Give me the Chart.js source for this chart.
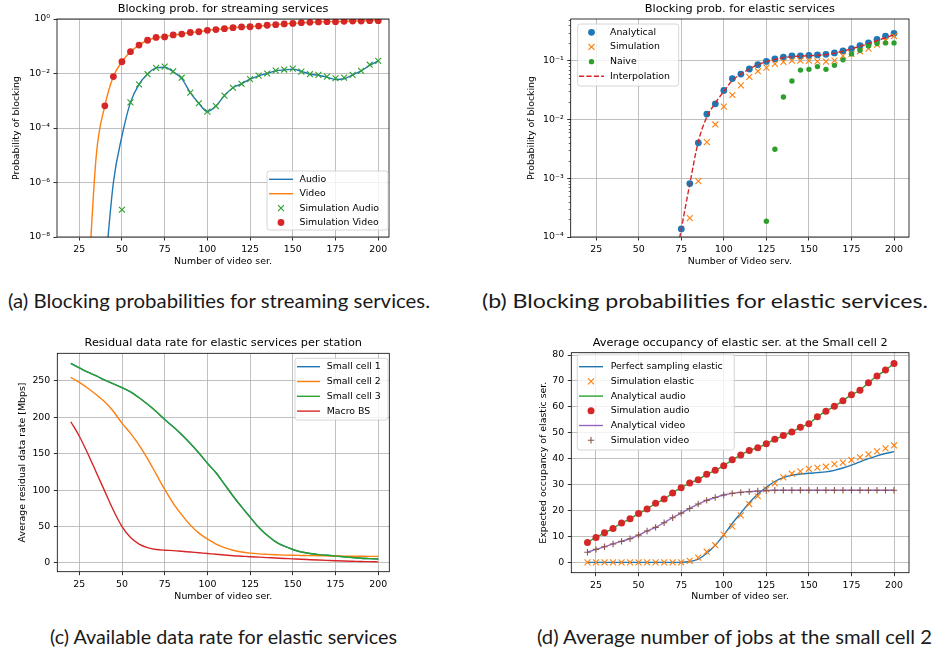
<!DOCTYPE html>
<html>
<head>
<meta charset="utf-8">
<script src="https://cdn.jsdelivr.net/npm/chart.js@4.4.1/dist/chart.umd.min.js"></script>
<style>
  html, body { margin: 0; padding: 0; background: #fff; }
  body { width: 933px; height: 654px; position: relative; overflow: hidden; }
  canvas { position: absolute; }
  .cap {
    position: absolute; white-space: nowrap; color: #1a1a1a;
    font-family: Lato, "Noto Sans", "DejaVu Sans", sans-serif; font-weight: 400;
    font-size: 19px; line-height: 20px; transform-origin: 0 50%;
  }
</style>
</head>
<body>
<canvas id="chartA" width="466" height="285" style="left:0;top:0"></canvas>
<canvas id="chartB" width="467" height="285" style="left:466px;top:0"></canvas>
<canvas id="chartC" width="466" height="290" style="left:0;top:330px"></canvas>
<canvas id="chartD" width="467" height="290" style="left:466px;top:330px"></canvas>

<div class="cap" data-w="422" style="left:8px;top:291px">(a) Blocking probabilities for streaming services.</div>
<div class="cap" data-w="446" style="left:482px;top:291px">(b) Blocking probabilities for elastic services.</div>
<div class="cap" data-w="347" style="left:50px;top:627px">(c) Available data rate for elastic services</div>
<div class="cap" data-w="395" style="left:537px;top:627px">(d) Average number of jobs at the small cell 2</div>

<script>
// ---------- (a) streaming blocking probabilities ----------
const audioX = [40, 45, 50, 55, 60, 65, 70, 75, 80, 85, 90, 95, 100, 105, 110, 115, 120, 125, 130, 135, 140, 145, 150, 155, 160, 165, 170, 175, 180, 185, 190, 195, 200];
const audioAnalytic = [5e-10, 1e-6, 5e-5, 8.7e-4, 4e-3, 9.6e-3, 1.6e-2, 1.7e-2, 1.15e-2, 6.5e-3, 2e-3, 8.1e-4, 4e-4, 6.4e-4, 1.55e-3, 3e-3, 4.2e-3, 6.2e-3, 8.2e-3, 1e-2, 1.25e-2, 1.35e-2, 1.45e-2, 1.2e-2, 9.6e-3, 8.6e-3, 7.4e-3, 6.0e-3, 6.4e-3, 8.9e-3, 1.25e-2, 2e-2, 2.9e-2];
const audioSimX = [50, 55, 60, 65, 70, 75, 80, 85, 90, 95, 100, 105, 110, 115, 120, 125, 130, 135, 140, 145, 150, 155, 160, 165, 170, 175, 180, 185, 190, 195, 200];
const audioSim = [1e-7, 8.7e-4, 4e-3, 9.4e-3, 1.6e-2, 1.8e-2, 1.2e-2, 7e-3, 2e-3, 8.1e-4, 4e-4, 6.4e-4, 1.55e-3, 3e-3, 4.2e-3, 6.2e-3, 8.3e-3, 1e-2, 1.28e-2, 1.4e-2, 1.5e-2, 1.17e-2, 9.4e-3, 8.9e-3, 7.7e-3, 6.7e-3, 7.1e-3, 8.9e-3, 1.25e-2, 2.1e-2, 2.9e-2];
const videoX = [30, 35, 40, 45, 50, 55, 60, 65, 70, 75, 80, 85, 90, 95, 100, 105, 110, 115, 120, 125, 130, 135, 140, 145, 150, 155, 160, 165, 170, 175, 180, 185, 190, 195, 200];
const videoAnalytic = [1e-10, 1e-5, 6.5e-4, 7.7e-3, 2.7e-2, 6.3e-2, 0.11, 0.166, 0.205, 0.225, 0.26, 0.28, 0.32, 0.34, 0.385, 0.41, 0.44, 0.48, 0.51, 0.52, 0.55, 0.59, 0.62, 0.66, 0.69, 0.73, 0.755, 0.78, 0.8, 0.8, 0.82, 0.845, 0.845, 0.87, 0.87];
const videoSimX = [40, 45, 50, 55, 60, 65, 70, 75, 80, 85, 90, 95, 100, 105, 110, 115, 120, 125, 130, 135, 140, 145, 150, 155, 160, 165, 170, 175, 180, 185, 190, 195, 200];
const videoSim = [6.5e-4, 7.7e-3, 2.7e-2, 6.3e-2, 0.11, 0.166, 0.21, 0.22, 0.26, 0.28, 0.32, 0.34, 0.385, 0.41, 0.44, 0.48, 0.51, 0.52, 0.55, 0.59, 0.62, 0.66, 0.69, 0.73, 0.755, 0.78, 0.8, 0.8, 0.82, 0.845, 0.845, 0.87, 0.87];
const logTicksA = [1e-8, 1e-6, 1e-4, 1e-2, 1];

// ---------- (b) elastic blocking probabilities ----------
const analyticalX = [75, 80, 85, 90, 95, 100, 105, 110, 115, 120, 125, 130, 135, 140, 145, 150, 155, 160, 165, 170, 175, 180, 185, 190, 195, 200];
const analytical = [1.37e-4, 8.1e-4, 4e-3, 1.23e-2, 1.84e-2, 3.1e-2, 4.95e-2, 5.9e-2, 7.2e-2, 8.5e-2, 9.7e-2, 0.107, 0.115, 0.12, 0.12, 0.123, 0.125, 0.128, 0.135, 0.146, 0.16, 0.18, 0.2, 0.23, 0.26, 0.29];
const simulationX = [80, 85, 90, 95, 100, 105, 110, 115, 120, 125, 130, 135, 140, 145, 150, 155, 160, 165, 170, 175, 180, 185, 190, 195, 200];
const simulation = [2.1e-4, 8.9e-4, 4.1e-3, 8.2e-3, 1.65e-2, 2.6e-2, 3.8e-2, 5.3e-2, 6.6e-2, 7.6e-2, 8.8e-2, 9.5e-2, 0.1, 0.1, 0.1, 0.097, 0.096, 0.1, 0.12, 0.13, 0.144, 0.16, 0.186, 0.22, 0.26];
const naiveX = [125, 130, 135, 140, 145, 150, 155, 160, 165, 170, 175, 180, 185, 190, 195, 200];
const naive = [1.85e-4, 3.1e-3, 2.4e-2, 4.5e-2, 6.9e-2, 7.1e-2, 7.9e-2, 7.1e-2, 8.3e-2, 0.103, 0.13, 0.15, 0.178, 0.195, 0.2, 0.2];
const interpX = [74, 75, 80, 85, 90, 95, 100, 105, 110, 115, 120, 125, 130, 135, 140, 145, 150, 155, 160, 165, 170, 175, 180, 185, 190, 195, 200];
const interp = [9.5e-5, 1.37e-4, 8e-4, 4.2e-3, 1.1e-2, 1.9e-2, 3.0e-2, 4.6e-2, 5.9e-2, 7.2e-2, 8.5e-2, 9.6e-2, 0.105, 0.112, 0.117, 0.119, 0.121, 0.123, 0.127, 0.134, 0.145, 0.158, 0.175, 0.195, 0.22, 0.245, 0.275];
const logTicksB = [1e-4, 1e-3, 1e-2, 1e-1];

// ---------- (c) residual data rate per station ----------
const stationX = [20, 25, 30, 35, 40, 45, 50, 55, 60, 65, 70, 75, 80, 85, 90, 95, 100, 105, 110, 115, 120, 125, 130, 135, 140, 145, 150, 155, 160, 165, 170, 175, 180, 185, 190, 195, 200];
const smallCell1 = [274, 268, 262, 257, 251, 246, 241, 235, 227, 218, 208, 197, 187, 176, 164, 151, 137, 124, 108, 92, 77, 63, 49, 38, 29, 23, 18.5, 15, 13, 11.5, 10.5, 9.5, 8.5, 7.5, 6.5, 6, 5.5];
const smallCell2 = [255, 248, 240, 231, 221, 208, 192, 178, 162, 143, 122, 101, 82, 66, 52, 41, 33, 26, 21, 17.5, 15, 13.5, 12.5, 11.8, 11.2, 10.8, 10.5, 10.3, 10.1, 10, 9.8, 9.6, 9.4, 9.3, 9.2, 9.1, 9];
const smallCell3 = [274, 268, 262, 257, 251, 246, 241, 235, 227, 218, 208, 197, 187, 176, 164, 151, 137, 124, 108, 92, 77, 63, 49, 38, 29, 23, 18.5, 15, 13, 11.5, 10.5, 9.5, 8.5, 7.5, 6.5, 6, 5.5];
const macroBS = [194, 174, 150, 124, 98, 72, 50, 35, 26, 21, 18.5, 17.5, 17, 16, 15, 14, 13, 12, 11, 10, 9.3, 8.6, 8, 7.4, 6.8, 6.2, 5.6, 5, 4.5, 4, 3.5, 3, 2.6, 2.3, 2, 1.8, 1.5];

// ---------- (d) occupancy at small cell 2 ----------
const occX = [20, 25, 30, 35, 40, 45, 50, 55, 60, 65, 70, 75, 80, 85, 90, 95, 100, 105, 110, 115, 120, 125, 130, 135, 140, 145, 150, 155, 160, 165, 170, 175, 180, 185, 190, 195, 200];
const perfectElastic = [0, 0, 0, 0, 0, 0, 0, 0, 0, 0, 0, 0, 0.3, 1.2, 3.5, 6.6, 10.5, 15, 19, 23, 26.3, 29, 31.2, 32.7, 33.6, 34.1, 34.4, 34.6, 34.9, 35.5, 36.4, 37.5, 38.8, 40, 41.1, 42, 42.7];
const elasticSim = [0, 0, 0, 0, 0, 0, 0, 0, 0, 0, 0, 0, 0.6, 1.8, 4.1, 6.6, 10.7, 13.9, 18.1, 22.5, 25.5, 28.2, 30.5, 32.8, 34.2, 35.1, 36.1, 36.5, 36.9, 37.9, 38.5, 39.5, 40.5, 41.7, 42.8, 44.0, 45.1];
const audioOccAnalytic = [7.7, 9.6, 11.4, 13.1, 15.2, 16.8, 18.8, 20.6, 22.8, 24.4, 26.8, 28.8, 30.6, 31.9, 34.0, 35.5, 37.3, 39.6, 41.4, 43.2, 44.2, 45.8, 47.5, 48.9, 50.3, 52.1, 53.5, 56.2, 58.3, 60.2, 62.4, 64.7, 66.4, 69.3, 71.9, 74.2, 76.7];
const audioOccSim = [7.7, 9.6, 11.4, 13.1, 15.2, 16.8, 18.8, 20.6, 22.8, 24.4, 26.8, 28.8, 30.6, 31.9, 34.0, 35.5, 37.3, 39.6, 41.4, 43.2, 44.2, 45.8, 47.5, 48.9, 50.3, 52.1, 53.5, 56.2, 58.3, 60.2, 62.4, 64.7, 66.4, 69.3, 71.9, 74.2, 76.7];
const videoOccAnalytic = [3.9, 5.0, 6.0, 7.1, 8.1, 9.1, 10.5, 12.1, 13.5, 15.3, 17.2, 19.0, 20.8, 22.5, 23.9, 25.0, 26.0, 26.6, 27.0, 27.3, 27.5, 27.7, 27.8, 27.8, 27.8, 27.8, 27.8, 27.8, 27.8, 27.8, 27.8, 27.8, 27.8, 27.8, 27.8, 27.8, 27.8];
const videoOccSim = [3.9, 5.0, 6.0, 7.1, 8.1, 9.1, 10.5, 12.1, 13.5, 15.3, 17.2, 19.0, 20.8, 22.5, 23.9, 25.0, 26.0, 26.6, 27.0, 27.3, 27.5, 27.7, 27.8, 27.8, 27.8, 27.8, 27.8, 27.8, 27.8, 27.8, 27.8, 27.8, 27.8, 27.8, 27.8, 27.8, 27.8];

const xTicks = [25, 50, 75, 100, 125, 150, 175, 200];
const yTicksC = [0, 50, 100, 150, 200, 250];
const yTicksD = [0, 10, 20, 30, 40, 50, 60, 70, 80];

// ---------- styling helpers ----------
const C = { blue: '#1f77b4', orange: '#ff7f0e', green: '#2ca02c', red: '#d62728', purple: '#9467bd', brown: '#8c564b' };
const FONT = '"DejaVu Sans", Verdana, sans-serif';
const FS = 9.4;
const SUP = { '-': '\u207B', '0': '\u2070', '1': '\u00B9', '2': '\u00B2', '3': '\u00B3', '4': '\u2074', '5': '\u2075', '6': '\u2076', '7': '\u2077', '8': '\u2078', '9': '\u2079' };
const powLabel = v => '10' + String(Math.round(Math.log10(v))).split('').map(c => SUP[c]).join('');
const pts = (xs, ys) => xs.map((x, i) => ({ x, y: ys[i] }));

function lineDs(label, xs, ys, color, extra) {
  return Object.assign({
    label, data: pts(xs, ys), borderColor: color, backgroundColor: color,
    borderWidth: 1.4, pointRadius: 0, pointHoverRadius: 0,
    cubicInterpolationMode: 'monotone', fill: false
  }, extra || {});
}
function markDs(label, xs, ys, color, style, r) {
  return {
    label, data: pts(xs, ys), showLine: false, borderColor: color, backgroundColor: color,
    pointStyle: style, pointRadius: r, pointHoverRadius: r,
    pointBackgroundColor: color, pointBorderColor: color,
    pointBorderWidth: style === 'circle' ? 0 : 1.1
  };
}

const gridOpt = { color: '#b0b0b0', lineWidth: 0.8, tickColor: '#000', tickWidth: 0.8, tickLength: 3.5, drawTicks: true };
const tickOpt = { font: { family: FONT, size: FS }, color: '#000', padding: 3.5, maxRotation: 0, autoSkip: false };

function xScale(min, max, h) {
  return {
    type: 'linear', min, max, grid: gridOpt, border: { display: false }, ticks: tickOpt,
    afterBuildTicks: s => { s.ticks = xTicks.map(v => ({ value: v })); },
    afterFit: s => { s.height = h; }
  };
}
function yLinear(min, max, ticks, w) {
  return {
    type: 'linear', min, max, grid: gridOpt, border: { display: false }, ticks: tickOpt,
    afterBuildTicks: s => { s.ticks = ticks.map(v => ({ value: v })); },
    afterFit: s => { s.width = w; }
  };
}
function yLog(min, max, ticks, w) {
  return {
    type: 'logarithmic', min, max, grid: gridOpt, border: { display: false },
    ticks: Object.assign({}, tickOpt, { callback: v => powLabel(v) }),
    afterBuildTicks: s => { s.ticks = ticks.map(v => ({ value: v })); },
    afterFit: s => { s.width = w; }
  };
}

// frame, titles, minor log ticks and an inset legend box
const mplDecor = {
  id: 'mplDecor',
  afterDraw(chart, args, o) {
    const ctx = chart.ctx, a = chart.chartArea;
    ctx.save();
    ctx.strokeStyle = '#000';
    ctx.lineWidth = 0.8;
    ctx.strokeRect(a.left, a.top, a.right - a.left, a.bottom - a.top);

    if (o.minorLog) {
      const ys = chart.scales.y;
      ctx.lineWidth = 0.6;
      const lo = Math.floor(Math.log10(ys.min)), hi = Math.ceil(Math.log10(ys.max));
      for (let d = lo; d <= hi; d++) {
        for (let m = 2; m <= 9; m++) {
          const v = m * Math.pow(10, d);
          if (v < ys.min || v > ys.max) continue;
          const py = Math.round(ys.getPixelForValue(v)) + 0.5;
          ctx.beginPath(); ctx.moveTo(a.left, py); ctx.lineTo(a.left - 2, py); ctx.stroke();
        }
      }
    }

    ctx.fillStyle = '#000';
    ctx.textAlign = 'center';
    ctx.textBaseline = 'middle';
    ctx.font = `11.3px ${FONT}`;
    ctx.fillText(o.title, (a.left + a.right) / 2, a.top + o.titleDy);
    ctx.font = `${FS}px ${FONT}`;
    ctx.fillText(o.xTitle, (a.left + a.right) / 2, a.bottom + o.xTitleDy);
    ctx.save();
    ctx.translate(a.left + o.yTitleDx, (a.top + a.bottom) / 2);
    ctx.rotate(-Math.PI / 2);
    ctx.fillText(o.yTitle, 0, 0);
    ctx.restore();

    const L = o.legend;
    if (L) {
      const r = 2.5;
      ctx.beginPath();
      ctx.moveTo(L.x + r, L.y);
      ctx.arcTo(L.x + L.w, L.y, L.x + L.w, L.y + L.h, r);
      ctx.arcTo(L.x + L.w, L.y + L.h, L.x, L.y + L.h, r);
      ctx.arcTo(L.x, L.y + L.h, L.x, L.y, r);
      ctx.arcTo(L.x, L.y, L.x + L.w, L.y, r);
      ctx.closePath();
      ctx.fillStyle = 'rgba(255,255,255,0.8)';
      ctx.fill();
      ctx.strokeStyle = '#cccccc';
      ctx.lineWidth = 0.8;
      ctx.stroke();
      chart.data.datasets.forEach((ds, i) => {
        const y = L.row0 + i * L.dy;
        if (ds.showLine !== false) {
          ctx.save();
          ctx.strokeStyle = ds.borderColor;
          ctx.lineWidth = ds.borderWidth;
          ctx.setLineDash(ds.borderDash || []);
          ctx.beginPath(); ctx.moveTo(L.h0, y); ctx.lineTo(L.h1, y); ctx.stroke();
          ctx.restore();
        }
        if (ds.pointRadius > 0) {
          ctx.save();
          ctx.fillStyle = ds.pointBackgroundColor;
          ctx.strokeStyle = ds.pointBorderColor;
          ctx.lineWidth = ds.pointBorderWidth;
          Chart.helpers.drawPoint(ctx, { pointStyle: ds.pointStyle, radius: ds.pointRadius, rotation: 0, borderWidth: ds.pointBorderWidth }, (L.h0 + L.h1) / 2, y);
          ctx.restore();
        }
        ctx.fillStyle = '#000';
        ctx.textAlign = 'left';
        ctx.textBaseline = 'middle';
        ctx.font = `${FS}px ${FONT}`;
        ctx.fillText(ds.label, L.tx, y);
      });
    }
    ctx.restore();
  }
};
Chart.register(mplDecor);

function makeChart(id, datasets, scales, padding, decor) {
  // later datasets are painted on top
  datasets.forEach((d, i) => { d.order = datasets.length - i; });
  return new Chart(document.getElementById(id), {
    type: 'line',
    data: { datasets },
    options: {
      responsive: false, animation: false, devicePixelRatio: 1,
      layout: { padding },
      scales,
      plugins: { legend: { display: false }, tooltip: { enabled: false }, title: { display: false }, mplDecor: decor }
    }
  });
}

// (a)
makeChart('chartA', [
  lineDs('Audio', audioX, audioAnalytic, C.blue),
  lineDs('Video', videoX, videoAnalytic, C.orange),
  markDs('Simulation Audio', audioSimX, audioSim, C.green, 'crossRot', 4.2),
  markDs('Simulation Video', videoSimX, videoSim, C.red, 'circle', 3.4)
], { x: xScale(12, 206.3, 48), y: yLog(1e-8, 1, logTicksA, 57) },
{ top: 19, right: 77, left: 0, bottom: 0 },
{ title: 'Blocking prob. for streaming services', titleDy: -10, xTitle: 'Number of video ser.', xTitleDy: 25,
  yTitle: 'Probability of blocking', yTitleDx: -40,
  legend: { x: 267, y: 171, w: 121, h: 59, row0: 179.3, dy: 14.4, h0: 269, h1: 293, tx: 299.5 } });

// (b)
makeChart('chartB', [
  markDs('Analytical', analyticalX, analytical, C.blue, 'circle', 3.4),
  markDs('Simulation', simulationX, simulation, C.orange, 'crossRot', 4.2),
  markDs('Naive', naiveX, naive, C.green, 'circle', 2.7),
  lineDs('Interpolation', interpX, interp, C.red, { borderDash: [5.2, 2.2] })
], { x: xScale(10, 208.8, 48), y: yLog(1e-4, 0.51, logTicksB, 104.7) },
{ top: 19, right: 24, left: 0, bottom: 0 },
{ title: 'Blocking prob. for elastic services', titleDy: -10, xTitle: 'Number of Video serv.', xTitleDy: 25,
  yTitle: 'Probability of blocking', yTitleDx: -39, minorLog: true,
  legend: { x: 111.7, y: 24, w: 101, h: 62, row0: 32.3, dy: 14.67, h0: 113, h1: 138, tx: 144 } });

// (c)
makeChart('chartC', [
  lineDs('Small cell 1', stationX, smallCell1, C.blue),
  lineDs('Small cell 2', stationX, smallCell2, C.orange),
  lineDs('Small cell 3', stationX, smallCell3, C.green),
  lineDs('Macro BS', stationX, macroBS, C.red)
], { x: xScale(12.1, 206.5, 48.3), y: yLinear(-12, 288, yTicksC, 57.3) },
{ top: 23.3, right: 76.7, left: 0, bottom: 0 },
{ title: 'Residual data rate for elastic services per station', titleDy: -10, xTitle: 'Number of video ser.', xTitleDy: 25,
  yTitle: 'Average residual data rate [Mbps]', yTitleDx: -34.6,
  legend: { x: 295, y: 28.3, w: 93, h: 61.7, row0: 36.7, dy: 14.8, h0: 297, h1: 320, tx: 326.7 } });

// (d)
makeChart('chartD', [
  lineDs('Perfect sampling elastic', occX, perfectElastic, C.blue),
  markDs('Simulation elastic', occX, elasticSim, C.orange, 'crossRot', 4.2),
  lineDs('Analytical audio', occX, audioOccAnalytic, C.green),
  markDs('Simulation audio', occX, audioOccSim, C.red, 'circle', 3.5),
  lineDs('Analytical video', occX, videoOccAnalytic, C.purple),
  markDs('Simulation video', occX, videoOccSim, C.brown, 'cross', 3.2)
], { x: xScale(10.5, 208.8, 47.3), y: yLinear(-4, 80.9, yTicksD, 105.3) },
{ top: 22.7, right: 24, left: 0, bottom: 0 },
{ title: 'Average occupancy of elastic ser. at the Small cell 2', titleDy: -10, xTitle: 'Number of video ser.', xTitleDy: 24,
  yTitle: 'Expected occupancy of elastic ser.', yTitleDx: -28,
  legend: { x: 111.3, y: 24, w: 157, h: 96, row0: 36.7, dy: 14.7, h0: 113, h1: 137, tx: 144.7 } });

// fit each caption to its column width
document.querySelectorAll('.cap').forEach(el => {
  const w = el.getBoundingClientRect().width;
  el.style.transform = `scaleX(${(+el.dataset.w / w).toFixed(4)})`;
});
</script>
</body>
</html>
